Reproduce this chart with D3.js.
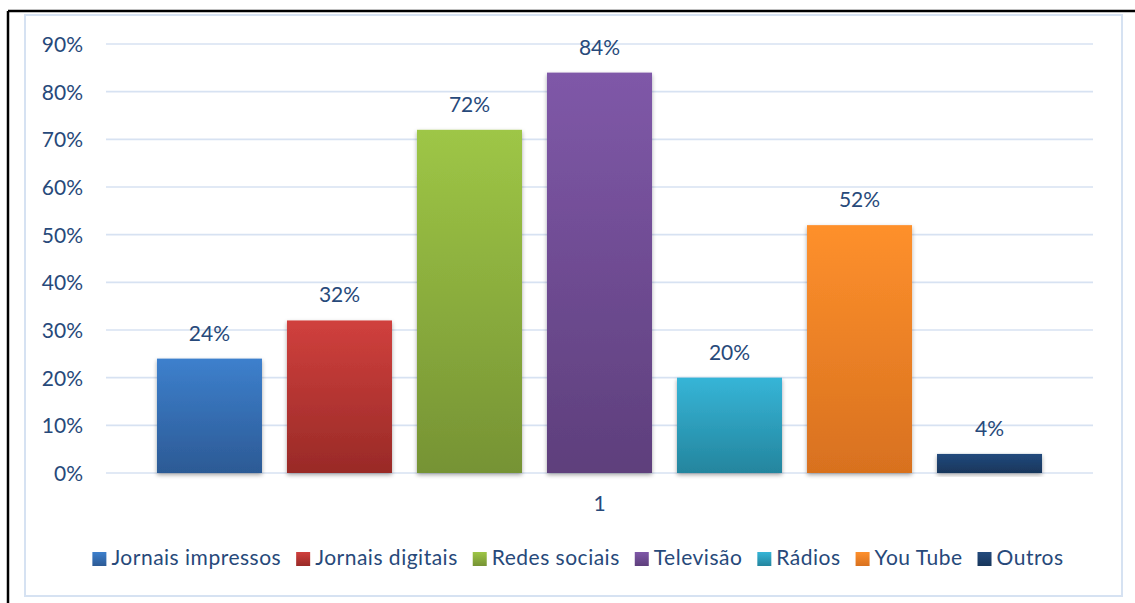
<!DOCTYPE html>
<html>
<head>
<meta charset="utf-8">
<script src="https://cdn.jsdelivr.net/npm/d3@7"></script>
<style>
  html, body { margin: 0; padding: 0; background: #fff; }
  svg { display: block; font-family: Lato, "Open Sans", sans-serif; }
</style>
</head>
<body>
<svg id="chart" width="1135" height="603"></svg>
<script>
// Media sources, single category group
const categories = ["1"];
const seriesNames = ["Jornais impressos", "Jornais digitais", "Redes sociais", "Televisão", "Rádios", "You Tube", "Outros"];
const seriesValues = [24, 32, 72, 84, 20, 52, 4];
const tickValues = [0, 10, 20, 30, 40, 50, 60, 70, 80, 90];
const seriesColors = [
  ["#3D80CD", "#2C5A95"],
  ["#D0403D", "#992A27"],
  ["#9EC646", "#769334"],
  ["#7F58A8", "#5E3F7C"],
  ["#36B5D7", "#24859E"],
  ["#FE902C", "#D8711F"],
  ["#234A7D", "#18365B"]
];

const textColor = "#27497A";
const svg = d3.select("#chart");
const defs = svg.append("defs");

// Vertical gradients for each series
seriesColors.forEach((c, i) => {
  const g = defs.append("linearGradient")
    .attr("id", "grad" + i).attr("x1", 0).attr("y1", 0).attr("x2", 0).attr("y2", 1);
  g.append("stop").attr("offset", "0%").attr("stop-color", c[0]);
  g.append("stop").attr("offset", "100%").attr("stop-color", c[1]);
});

// Soft shadow under bars
const f = defs.append("filter").attr("id", "shadow")
  .attr("x", "-10%").attr("y", "-10%").attr("width", "120%").attr("height", "130%");
f.append("feDropShadow").attr("dx", 0).attr("dy", 2).attr("stdDeviation", 2)
  .attr("flood-color", "#000").attr("flood-opacity", 0.35);

// Outer frame lines
svg.append("line").attr("x1", 8).attr("x2", 1135).attr("y1", 11).attr("y2", 11)
  .attr("stroke", "#000").attr("stroke-width", 2.5);
svg.append("line").attr("x1", 8).attr("x2", 8).attr("y1", 11).attr("y2", 603)
  .attr("stroke", "#000").attr("stroke-width", 2.5);

// Chart area border
svg.append("rect").attr("x", 25).attr("y", 15).attr("width", 1097).attr("height", 581)
  .attr("fill", "#fff").attr("stroke", "#D6E2F2").attr("stroke-width", 2);

// Scales
const y = d3.scaleLinear().domain([0, 90]).range([473, 44]);
const x0 = d3.scaleBand().domain(categories).range([106, 1093])
  .paddingInner(0).paddingOuter(0.0576);
const x1 = d3.scaleBand().domain(seriesNames).range([0, x0.bandwidth()])
  .paddingInner(25 / 130).paddingOuter(0);

// Gridlines
svg.append("g").selectAll("line").data(tickValues).join("line")
  .attr("x1", 106).attr("x2", 1093)
  .attr("y1", d => y(d)).attr("y2", d => y(d))
  .attr("stroke", "#D7E2F2").attr("stroke-width", 1.6);

// Y axis labels
const yAxis = d3.axisLeft(y).tickValues(tickValues).tickFormat(d => d + "%").tickSize(0).tickPadding(0);
const yg = svg.append("g").attr("transform", "translate(83,0)").call(yAxis);
yg.select(".domain").remove();
yg.selectAll("text")
  .attr("fill", textColor).attr("font-size", 21).attr("font-family", "Lato, sans-serif")
  .attr("dy", "0.35em");

// Bars
const data = seriesNames.map((s, i) => ({ name: s, value: seriesValues[i], i }));
const gBars = svg.append("g").attr("transform", `translate(${x0("1")},0)`);
gBars.selectAll("rect").data(data).join("rect")
  .attr("x", d => x1(d.name))
  .attr("y", d => y(d.value))
  .attr("width", x1.bandwidth())
  .attr("height", d => y(0) - y(d.value))
  .attr("fill", d => `url(#grad${d.i})`)
  .attr("filter", "url(#shadow)");

// Value labels
gBars.selectAll("text").data(data).join("text")
  .attr("x", d => x1(d.name) + x1.bandwidth() / 2)
  .attr("y", d => y(d.value) - 18)
  .attr("text-anchor", "middle")
  .attr("fill", textColor).attr("font-size", 21)
  .text(d => d.value + "%");

// Category axis label
const xAxis = d3.axisBottom(x0).tickSize(0).tickPadding(0);
const xg = svg.append("g").attr("transform", "translate(0,496)").call(xAxis);
xg.select(".domain").remove();
xg.selectAll("text").attr("fill", textColor).attr("font-size", 21)
  .attr("font-family", "Lato, sans-serif").attr("dy", "0.7em");

// Legend
const legend = svg.append("g");
const items = legend.selectAll("g").data(data).join("g");
items.append("rect").attr("width", 14).attr("height", 14).attr("y", -13)
  .attr("fill", d => `url(#grad${d.i})`);
const labels = items.append("text").attr("x", 19).attr("y", 0)
  .attr("fill", textColor).attr("font-size", 21).attr("letter-spacing", 0.5)
  .text(d => d.name);
let cx = 0;
const gap = 15;
items.each(function(d, i) {
  const w = 19 + labels.nodes()[i].getComputedTextLength();
  d3.select(this).attr("transform", `translate(${cx},0)`);
  cx += w + gap;
});
const totalW = cx - gap;
legend.attr("transform", `translate(${578 - totalW / 2},565)`);
</script>
</body>
</html>
